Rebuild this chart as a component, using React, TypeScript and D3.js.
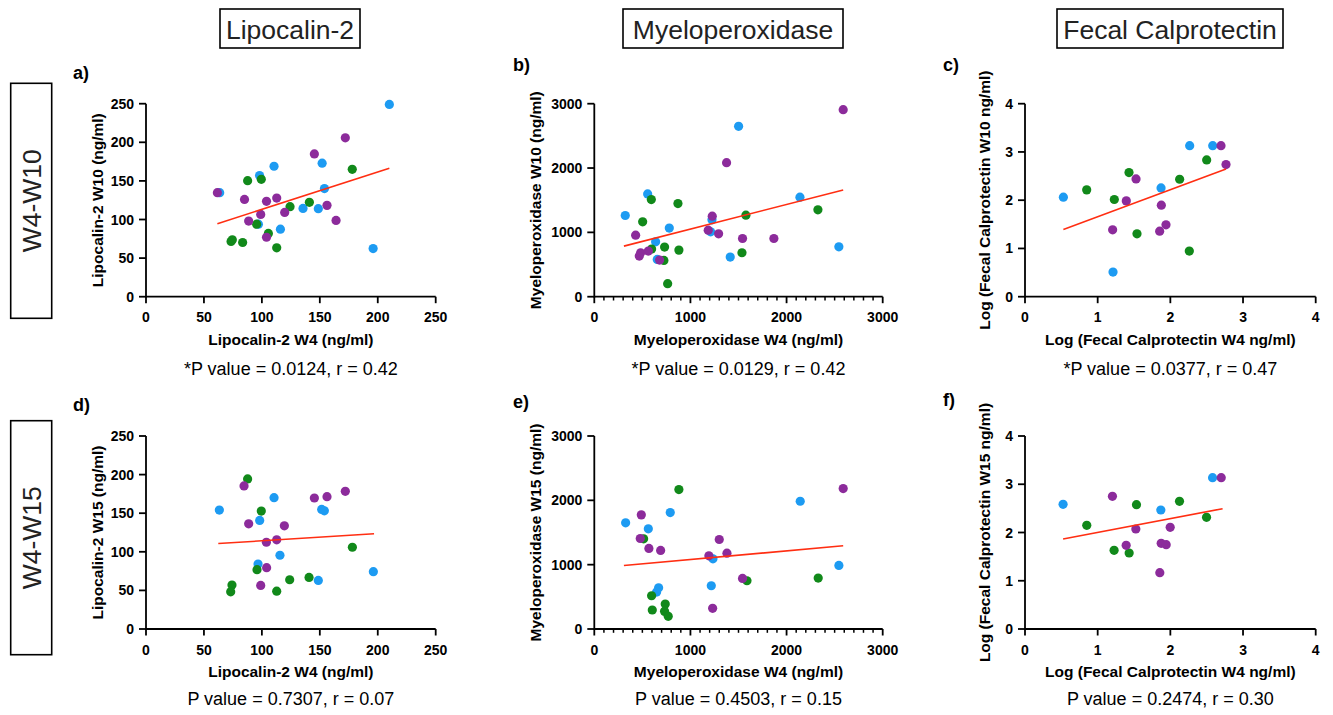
import React from "react";
import * as d3 from "d3";

// ---------- data ----------
const lcnTicks = [0, 50, 100, 150, 200, 250];
const mpoTicks = [0, 1000, 2000, 3000];
const fcTicks = [0, 1, 2, 3, 4];

// a) Lipocalin-2 W4 vs W10
const aBlue = [[210, 249], [98, 157], [110.5, 169], [152, 173], [154, 140], [63.6, 134.7], [97, 94], [116, 87.5], [135.5, 114.4], [148.7, 114], [196, 62.4]];
const aPurple = [[61.6, 134.7], [85, 126], [88.6, 98], [99, 106.6], [104, 123.5], [112.8, 127.8], [119.7, 109.2], [104, 77], [145.3, 185], [172, 205.8], [156.2, 118.3], [164, 98.8]];
const aGreen = [[87.7, 150.3], [99.5, 152.1], [73.4, 71.5], [74.5, 73.7], [83.4, 70.2], [95.5, 94], [105.6, 81.9], [112.8, 63.3], [124.3, 116.6], [141, 122.2], [178, 165]];
const aFit = [[61.6, 94.5], [210, 166.4]];

// b) Myeloperoxidase W4 vs W10
const bBlue = [[1501, 2648], [555, 1598], [322, 1262], [780, 1066], [638, 853], [655, 579], [1224, 1195], [1210, 1009], [1414, 616], [2139, 1547], [2544, 776]];
const bPurple = [[2589, 2907], [1376, 2084], [1227, 1252], [1185, 1034], [1293, 978], [1542, 905], [1868, 905], [430, 957], [482, 683], [468, 631], [562, 709], [679, 569]];
const bGreen = [[593, 1510], [503, 1164], [870, 1448], [596, 740], [731, 771], [724, 564], [880, 724], [763, 202], [1577, 1267], [1536, 683], [2326, 1350]];
const bFit = [[308, 786], [2589, 1660]];

// c) Fecal calprotectin W4 vs W10 (log)
const cBlue = [[0.528, 2.062], [1.211, 0.51], [1.872, 2.255], [2.266, 3.131], [2.583, 3.131]];
const cPurple = [[2.697, 3.131], [2.766, 2.738], [1.528, 2.441], [1.394, 1.986], [1.876, 1.897], [1.94, 1.49], [1.853, 1.359], [1.206, 1.386]];
const cGreen = [[0.849, 2.214], [1.229, 2.014], [1.431, 2.572], [1.541, 1.303], [2.128, 2.434], [2.5, 2.834], [2.261, 0.945]];
const cFit = [[0.528, 1.393], [2.766, 2.648]];

// d) Lipocalin-2 W4 vs W15
const dBlue = [[63.3, 154.1], [98.1, 140.6], [110.5, 170.1], [151.6, 154.9], [153.9, 153.1], [115.6, 95.5], [96.7, 84.2], [148.7, 62.9], [196.2, 74.2]];
const dPurple = [[84.6, 185.3], [88.6, 136.3], [119.4, 133.7], [112.8, 115.5], [103.9, 112.4], [104.1, 79.4], [99, 56.4], [145.3, 169.7], [156.2, 171.4], [172, 178.4]];
const dGreen = [[87.7, 194.4], [99.5, 152.8], [95.8, 76.8], [74.2, 56.9], [73.1, 48.2], [112.8, 49], [124, 63.8], [140.7, 66.8], [178.1, 105.9]];
const dFit = [[62.4, 110.7], [196.8, 123.3]];

// e) Myeloperoxidase W4 vs W15
const eBlue = [[326, 1650], [562, 1557], [790, 1810], [2142, 1986], [2544, 988], [1234, 1091], [1217, 672], [669, 641], [648, 574]];
const ePurple = [[489, 1774], [478, 1407], [568, 1252], [690, 1221], [1192, 1138], [1300, 1391], [1380, 1179], [1542, 786], [1231, 321], [2589, 2183]];
const eGreen = [[880, 2167], [513, 1402], [596, 517], [603, 295], [738, 388], [731, 274], [769, 197], [1588, 750], [2329, 791]];
const eFit = [[308, 988], [2589, 1293]];

// f) Fecal calprotectin W4 vs W15 (log)
const fBlue = [[0.524, 2.584], [1.869, 2.466], [2.581, 3.136]];
const fPurple = [[2.7, 3.136], [1.203, 2.75], [1.525, 2.073], [1.392, 1.734], [1.874, 1.775], [1.943, 1.748], [1.998, 2.107], [1.855, 1.168]];
const fGreen = [[0.85, 2.149], [1.534, 2.577], [1.226, 1.63], [1.433, 1.575], [2.126, 2.646], [2.498, 2.314]];
const fFit = [[0.524, 1.865], [2.719, 2.494]];

const columnHeaders = ["Lipocalin-2", "Myeloperoxidase", "Fecal Calprotectin"];
const rowHeaders = ["W4-W10", "W4-W15"];

// ---------- style/layout ----------
const BLUE = "#1D9BF2";
const PURPLE = "#8C2B9B";
const GREEN = "#11891A";
const RED = "#FF2E12";
const FONT = "'Liberation Sans', Arial, Helvetica, sans-serif";

const colX0 = [146, 594.3, 1025];
const colW = [289.7, 288.4, 290.7];
const rowBottom = [296.7, 629];
const plotH = 193;
const yTitleOffset = [43, 53, 35];
const letterX = [73, 513, 943];
const letterY = [[79, 71, 71], [411, 408, 406]];

const panels = [
  { letter: "a)", row: 0, col: 0, xd: [0, 250], yd: [0, 250], xt: lcnTicks, yt: lcnTicks, blue: aBlue, purple: aPurple, green: aGreen, fit: aFit, xTitle: "Lipocalin-2 W4 (ng/ml)", yTitle: "Lipocalin-2 W10 (ng/ml)", stat: "*P value = 0.0124, r = 0.42", minor: false },
  { letter: "b)", row: 0, col: 1, xd: [0, 3000], yd: [0, 3000], xt: mpoTicks, yt: mpoTicks, blue: bBlue, purple: bPurple, green: bGreen, fit: bFit, xTitle: "Myeloperoxidase W4 (ng/ml)", yTitle: "Myeloperoxidase W10 (ng/ml)", stat: "*P value = 0.0129, r = 0.42", minor: true },
  { letter: "c)", row: 0, col: 2, xd: [0, 4], yd: [0, 4], xt: fcTicks, yt: fcTicks, blue: cBlue, purple: cPurple, green: cGreen, fit: cFit, xTitle: "Log (Fecal Calprotectin W4 ng/ml)", yTitle: "Log (Fecal Calprotectin W10 ng/ml)", stat: "*P value = 0.0377, r = 0.47", minor: false },
  { letter: "d)", row: 1, col: 0, xd: [0, 250], yd: [0, 250], xt: lcnTicks, yt: lcnTicks, blue: dBlue, purple: dPurple, green: dGreen, fit: dFit, xTitle: "Lipocalin-2 W4 (ng/ml)", yTitle: "Lipocalin-2 W15 (ng/ml)", stat: "P value = 0.7307, r = 0.07", minor: false },
  { letter: "e)", row: 1, col: 1, xd: [0, 3000], yd: [0, 3000], xt: mpoTicks, yt: mpoTicks, blue: eBlue, purple: ePurple, green: eGreen, fit: eFit, xTitle: "Myeloperoxidase W4 (ng/ml)", yTitle: "Myeloperoxidase W15 (ng/ml)", stat: "P value = 0.4503, r = 0.15", minor: true },
  { letter: "f)", row: 1, col: 2, xd: [0, 4], yd: [0, 4], xt: fcTicks, yt: fcTicks, blue: fBlue, purple: fPurple, green: fGreen, fit: fFit, xTitle: "Log (Fecal Calprotectin W4 ng/ml)", yTitle: "Log (Fecal Calprotectin W15 ng/ml)", stat: "P value = 0.2474, r = 0.30", minor: false },
];

function Panel({ p }: { p: any }) {
  const x0 = colX0[p.col];
  const x1 = x0 + colW[p.col];
  const yb = rowBottom[p.row];
  const yt = yb - plotH;
  const x = d3.scaleLinear().domain(p.xd).range([x0, x1]);
  const y = d3.scaleLinear().domain(p.yd).range([yb, yt]);
  const cx = (x0 + x1) / 2;
  const cy = (yb + yt) / 2;
  const line = d3.line<number[]>().x((d) => x(d[0])).y((d) => y(d[1]));
  const minorTicks = p.minor ? d3.range(p.xd[0], p.xd[1] + 1, 100).filter((v: number) => v % 1000 !== 0) : [];
  const groups = [
    { pts: p.blue, c: BLUE },
    { pts: p.green, c: GREEN },
    { pts: p.purple, c: PURPLE },
  ];
  const yTitleX = x0 - yTitleOffset[p.col];
  return (
    <g>
      <text x={letterX[p.col]} y={letterY[p.row][p.col]} fontFamily={FONT} fontWeight="bold" fontSize={18}>{p.letter}</text>
      <line x1={x0} x2={x1} y1={yb} y2={yb} stroke="#000" strokeWidth={1.8} />
      <line x1={x0} x2={x0} y1={yb + 0.9} y2={yt} stroke="#000" strokeWidth={1.8} />
      {p.xt.map((t: number) => (
        <g key={"xt" + t}>
          <line x1={x(t)} x2={x(t)} y1={yb} y2={yb + 6.5} stroke="#000" strokeWidth={1.8} />
          <text x={x(t)} y={yb + 25.5} textAnchor="middle" fontFamily={FONT} fontWeight="bold" fontSize={14}>{t}</text>
        </g>
      ))}
      {minorTicks.map((t: number) => (
        <line key={"mt" + t} x1={x(t)} x2={x(t)} y1={yb} y2={yb + 3.8} stroke="#000" strokeWidth={1.5} />
      ))}
      {p.yt.map((t: number) => (
        <g key={"yt" + t}>
          <line x1={x0} x2={x0 - 7} y1={y(t)} y2={y(t)} stroke="#000" strokeWidth={1.8} />
          <text x={x0 - 12} y={y(t)} dy="0.36em" textAnchor="end" fontFamily={FONT} fontWeight="bold" fontSize={14}>{t}</text>
        </g>
      ))}
      {groups.map((g, gi) => g.pts.map((d: number[], i: number) => (
        <circle key={gi + "-" + i} cx={x(d[0])} cy={y(d[1])} r={4.6} fill={g.c} />
      )))}
      <path d={line(p.fit) || ""} stroke={RED} strokeWidth={1.6} fill="none" />
      <text x={cx} y={yb + 48} textAnchor="middle" fontFamily={FONT} fontWeight="bold" fontSize={15.5}>{p.xTitle}</text>
      <text transform={`translate(${yTitleX},${cy}) rotate(-90)`} textAnchor="middle" fontFamily={FONT} fontWeight="bold" fontSize={15.5}>{p.yTitle}</text>
      <text x={cx} y={yb + (p.row === 0 ? 78.3 : 76)} textAnchor="middle" fontFamily={FONT} fontSize={18}>{p.stat}</text>
    </g>
  );
}

const headerBoxes = [
  { x: 220, w: 140 },
  { x: 623, w: 220 },
  { x: 1057, w: 226 },
];
const rowBoxes = [
  { y: 83.3, h: 235 },
  { y: 420.7, h: 234 },
];

export default function App() {
  return (
    <svg width={1333} height={715} style={{ position: "absolute", left: 0, top: 0, background: "#fff" }}>
      <rect x={0} y={0} width={1333} height={715} fill="#fff" />
      {columnHeaders.map((h, i) => {
        const b = headerBoxes[i];
        return (
          <g key={h}>
            <rect x={b.x} y={9} width={b.w} height={39} fill="none" stroke="#000" strokeWidth={1.6} />
            <text x={b.x + b.w / 2} y={38.5} textAnchor="middle" fontFamily={FONT} fontSize={26.5} fill="#222">{h}</text>
          </g>
        );
      })}
      {rowHeaders.map((h, i) => {
        const b = rowBoxes[i];
        const cy = b.y + b.h / 2;
        return (
          <g key={h}>
            <rect x={10.7} y={b.y} width={41} height={b.h} fill="none" stroke="#000" strokeWidth={1.6} />
            <text transform={`translate(40.5,${cy}) rotate(-90)`} textAnchor="middle" fontFamily={FONT} fontSize={26.5} fill="#222">{h}</text>
          </g>
        );
      })}
      {panels.map((p) => <Panel key={p.letter} p={p} />)}
    </svg>
  );
}
